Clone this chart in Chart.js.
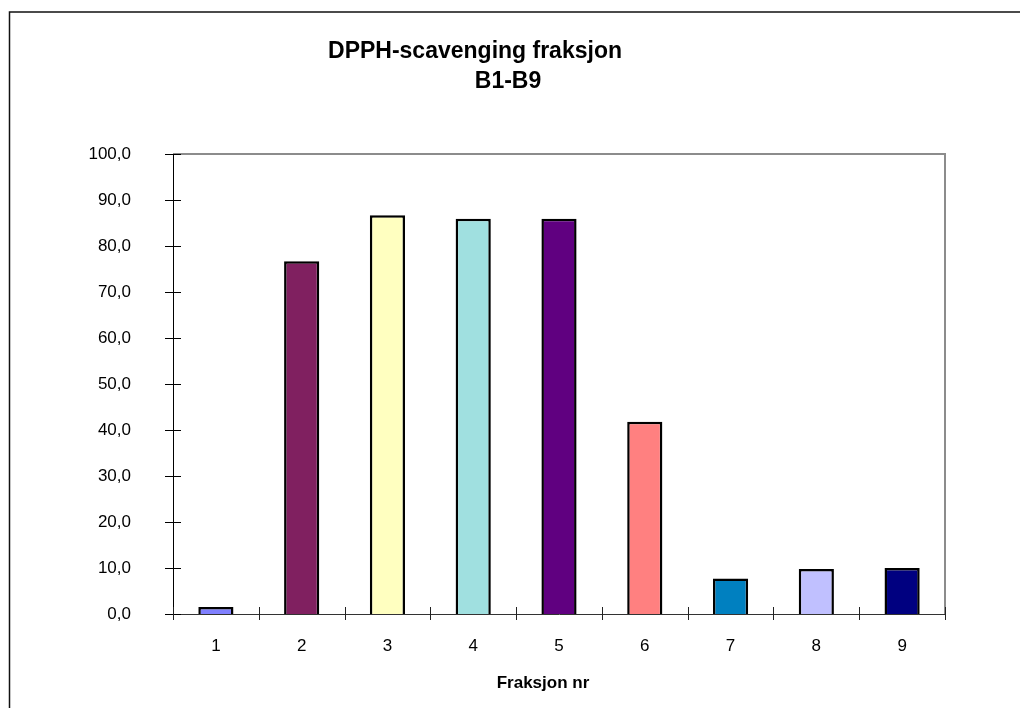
<!DOCTYPE html>
<html>
<head>
<meta charset="utf-8">
<script src="https://cdn.jsdelivr.net/npm/chart.js@4.4.1/dist/chart.umd.min.js"></script>
<style>
    html, body { margin: 0; padding: 0; background: #fff; }
    #chart { display: block; }
</style>
</head>
<body>
<canvas id="chart" width="1020" height="708"></canvas>
<script>
// Fraction numbers on the x axis.
const fractions = ["1", "2", "3", "4", "5", "6", "7", "8", "9"];

// DPPH scavenging (%) per fraction.
const scavenging = [1.5, 76.7, 86.7, 85.9, 85.9, 41.8, 7.7, 9.8, 10.0];

// One fill per bar, the old Excel chart palette.
const barColors = ["#8080FF", "#802060", "#FFFFC0", "#A0E0E0", "#600080",
                   "#FF8080", "#0080C0", "#C0C0FF", "#000080"];

const titleLines = ["DPPH-scavenging fraksjon", "B1-B9"];
const xTitle = "Fraksjon nr";

const FONT = "'Liberation Sans', Arial, sans-serif";

// Frame, plot box, crossing tick marks and the texts that Excel places off-centre.
const excelLook = {
    id: 'excelLook',
    beforeDraw(chart) {
        const ctx = chart.ctx;
        ctx.save();
        ctx.fillStyle = "#fff";
        ctx.fillRect(0, 0, chart.width, chart.height);
        ctx.strokeStyle = "#111";
        ctx.lineWidth = 1.5;
        ctx.beginPath();
        ctx.moveTo(9.5, chart.height);
        ctx.lineTo(9.5, 12);
        ctx.lineTo(chart.width, 12);
        ctx.stroke();
        ctx.restore();
    },
    afterDraw(chart) {
        const ctx = chart.ctx;
        const a = chart.chartArea;
        const y = chart.scales.y;
        ctx.save();

        // grey top and right edge of the plot area
        ctx.strokeStyle = "#8c8c8c";
        ctx.lineWidth = 2;
        ctx.beginPath();
        ctx.moveTo(a.left, a.top);
        ctx.lineTo(a.right, a.top);
        ctx.lineTo(a.right, a.bottom);
        ctx.stroke();

        // y ticks crossing the axis
        ctx.strokeStyle = "#000";
        ctx.lineWidth = 1;
        ctx.beginPath();
        y.ticks.forEach((t, i) => {
            const py = Math.round(y.getPixelForTick(i)) + 0.5;
            ctx.moveTo(a.left - 8, py);
            ctx.lineTo(a.left + 8, py);
        });
        ctx.stroke();

        // x ticks on the category boundaries
        ctx.strokeStyle = "#222";
        ctx.beginPath();
        const step = (a.right - a.left) / fractions.length;
        for (let i = 0; i <= fractions.length; ++i) {
            const px = Math.round(a.left + i * step) + 0.5;
            ctx.moveTo(px, a.bottom - 7);
            ctx.lineTo(px, a.bottom + 6);
        }
        ctx.stroke();

        // titles
        ctx.fillStyle = "#000";
        ctx.textAlign = "center";
        ctx.textBaseline = "middle";
        ctx.font = `bold 23px ${FONT}`;
        ctx.fillText(titleLines[0], 475, 52);
        ctx.fillText(titleLines[1], 508, 82);
        ctx.font = `bold 17px ${FONT}`;
        ctx.fillText(xTitle, 543, 683);

        ctx.restore();
    }
};

new Chart(document.getElementById("chart"), {
    type: 'bar',
    data: {
        labels: fractions,
        datasets: [{
            label: "DPPH-scavenging",
            data: scavenging,
            backgroundColor: barColors,
            borderColor: "#000",
            borderWidth: 2.5,
            categoryPercentage: 1.0,
            barPercentage: 0.41,
        }],
    },
    options: {
        responsive: false,
        animation: false,
        devicePixelRatio: 1,
        layout: {
            padding: { left: 0, top: 154, right: 75, bottom: 0 },
        },
        plugins: {
            legend: { display: false },
            title: { display: false },
            tooltip: { enabled: false },
        },
        scales: {
            x: {
                afterFit: s => { s.height = 94; },
                grid: { display: false, drawTicks: false },
                border: { display: true, color: "#333", width: 1 },
                ticks: {
                    color: "#000",
                    padding: 22,
                    font: { family: FONT, size: 17 },
                },
            },
            y: {
                min: 0,
                max: 100,
                afterFit: s => { s.width = 173; },
                grid: { display: false, drawTicks: false },
                border: { display: true, color: "#000", width: 1 },
                ticks: {
                    stepSize: 10,
                    color: "#000",
                    padding: 42,
                    font: { family: FONT, size: 17 },
                    callback: v => v.toFixed(1).replace('.', ','),
                },
            },
        },
    },
    plugins: [excelLook],
});
</script>
</body>
</html>
